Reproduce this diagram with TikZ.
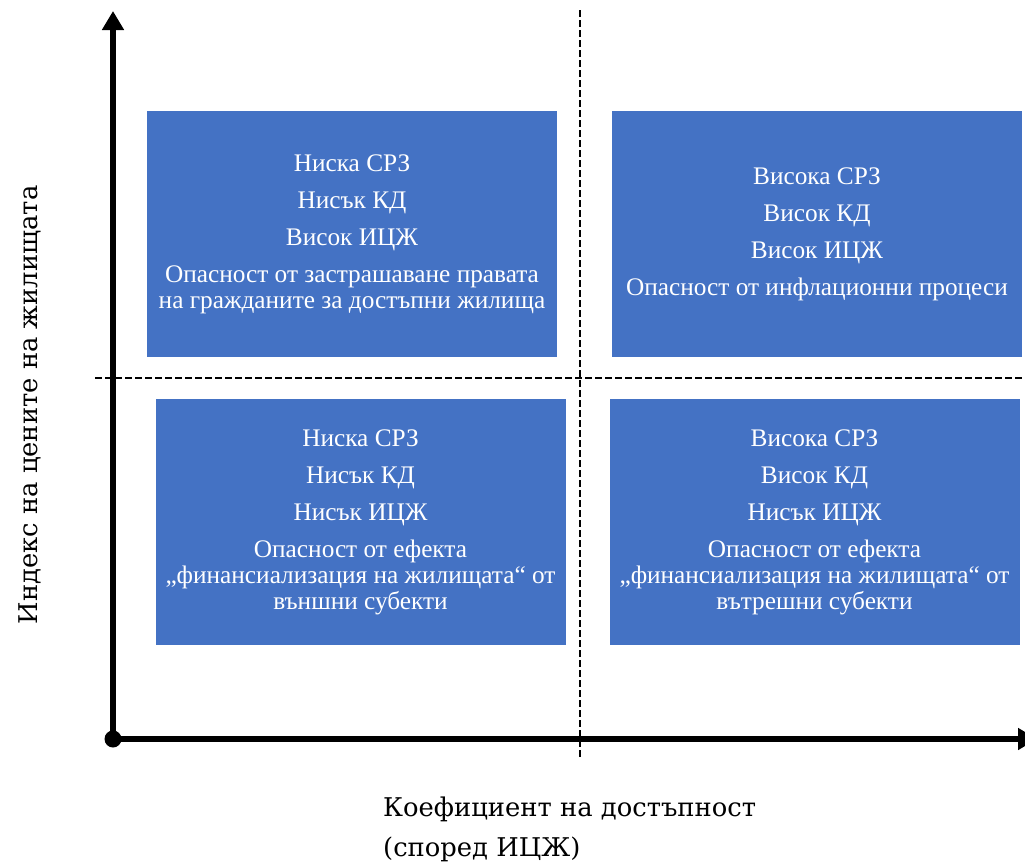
\documentclass[tikz,border=0pt]{standalone}
\usepackage{fontspec}
\setmainfont{Liberation Serif}
\newfontfamily\axisfont{DejaVu Serif}
\usetikzlibrary{arrows.meta}
\definecolor{boxblue}{HTML}{4472C4}
\tikzset{
  quad/.style={fill=boxblue, text=white, minimum width=410pt, minimum height=246pt,
    inner sep=0pt, align=center, font=\fontsize{25.3}{26}\selectfont},
  axisline/.style={line width=6pt, -{Triangle[length=19pt,width=21pt]}},
  guide/.style={line width=1.4pt, dash pattern=on 7pt off 3pt},
  axislabel/.style={font=\axisfont\fontsize{25.8}{40}\selectfont, inner sep=0pt}
}
\begin{document}
\begin{tikzpicture}[x=1pt,y=-1pt]
\useasboundingbox (0,0) rectangle (1025,863);
\begin{scope}
\clip (0,0) rectangle (1025,863);
\node[quad] (tl) at (352,234) {Ниска СРЗ\\[11pt]Нисък КД\\[11pt]Висок ИЦЖ\\[11pt]Опасност от застрашаване правата\\на гражданите за достъпни жилища};
\node[quad] (tr) at (817,234) {Висока СРЗ\\[11pt]Висок КД\\[11pt]Висок ИЦЖ\\[11pt]Опасност от инфлационни процеси};
\node[quad] (bl) at (360.5,522) {Ниска СРЗ\\[11pt]Нисък КД\\[11pt]Нисък ИЦЖ\\[11pt]Опасност от ефекта\\„финансиализация на жилищата“ от\\външни субекти};
\node[quad] (br) at (814.5,522) {Висока СРЗ\\[11pt]Висок КД\\[11pt]Нисък ИЦЖ\\[11pt]Опасност от ефекта\\„финансиализация на жилищата“ от\\вътрешни субекти};
\coordinate (vtop) at (580,10);
\coordinate (vbot) at (580,757);
\coordinate (hl) at (95,378);
\coordinate (hr) at (1025,378);
\draw[guide] (vtop) -- (vbot);
\draw[guide] (hl) -- (hr);
\coordinate (o) at (113,739);
\coordinate (ytip) at (113,11);
\coordinate (xtip) at (1037,739);
\draw[axisline] (o) -- (ytip);
\draw[axisline] (o) -- (xtip);
\fill (o) circle (8.5pt);
\node[axislabel, rotate=90] (ylab) at (30,405) {Индекс на цените на жилищата};
\node[axislabel, anchor=west, align=left] (xlab) at (383,829) {Коефициент на достъпност\\(според ИЦЖ)};
\end{scope}
\end{tikzpicture}
\end{document}
